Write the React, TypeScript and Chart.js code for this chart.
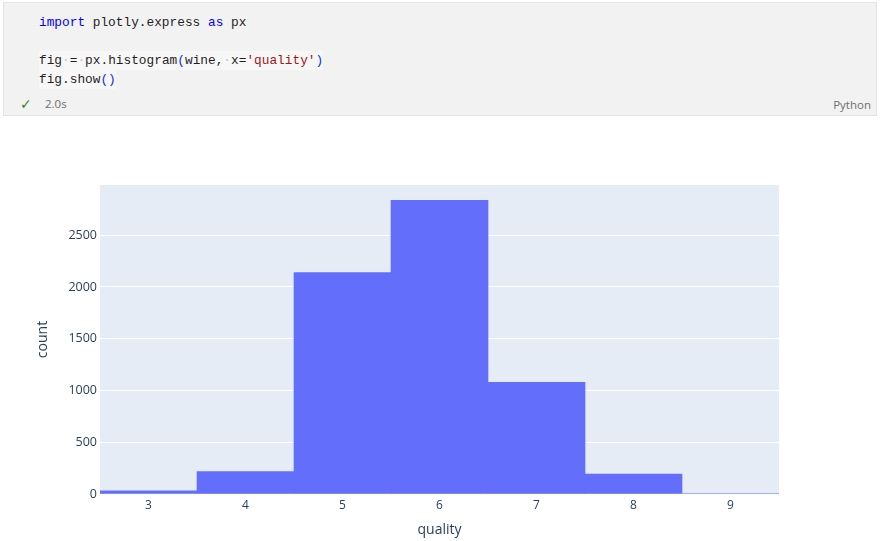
import React, { useEffect, useRef } from "react";
import { Chart, registerables } from "chart.js";

Chart.register(...registerables);

const qualities: string[] = ["3", "4", "5", "6", "7", "8", "9"];
const counts: number[] = [30, 216, 2138, 2836, 1079, 193, 5];
const yTickValues: number[] = [0, 500, 1000, 1500, 2000, 2500];
const yMax = 2985;

const plotBg = {
  id: "plotBg",
  beforeDraw(chart: any) {
    const { ctx, chartArea } = chart;
    if (!chartArea) return;
    ctx.save();
    ctx.fillStyle = "#e5ecf6";
    ctx.fillRect(chartArea.left, chartArea.top, chartArea.right - chartArea.left, chartArea.bottom - chartArea.top);
    ctx.restore();
  },
};

const mono: React.CSSProperties = {
  fontFamily: "'Liberation Mono', 'DejaVu Sans Mono', monospace",
  fontSize: "12.8px",
  whiteSpace: "pre",
  color: "#1f1f1f",
  position: "absolute",
  left: 35,
  height: 19,
  lineHeight: "19px",
};

const kw = { color: "#0000ff" };
const br = { color: "#0431fa" };
const str = { color: "#a31515" };
const ws = { color: "#c4c4c4" };

export default function App() {
  const ref = useRef<HTMLCanvasElement | null>(null);

  useEffect(() => {
    if (!ref.current) return;
    const chart = new Chart(ref.current, {
      type: "bar",
      data: {
        labels: qualities,
        datasets: [
          {
            label: "count",
            data: counts,
            backgroundColor: "#636efa",
            borderWidth: 0,
            barPercentage: 1,
            categoryPercentage: 1,
          },
        ],
      },
      options: {
        responsive: false,
        animation: false,
        layout: { padding: { top: 65, right: 101, left: 0, bottom: 0 } },
        plugins: { legend: { display: false }, tooltip: { enabled: false } },
        scales: {
          x: {
            type: "category",
            grid: { display: false, drawTicks: false },
            border: { display: false },
            ticks: { color: "#2a3f5f", font: { family: "'Open Sans'", size: 12 }, padding: 4 },
            title: {
              display: true,
              text: "quality",
              color: "#2a3f5f",
              font: { family: "'Open Sans'", size: 14 },
              padding: { top: 0, bottom: 3 },
            },
            afterFit(scale: any) {
              scale.height = 47;
            },
          },
          y: {
            min: 0,
            max: yMax,
            grid: { color: "#ffffff", lineWidth: 1, drawTicks: false },
            border: { display: false },
            afterBuildTicks(scale: any) {
              scale.ticks = yTickValues.map((v) => ({ value: v }));
            },
            ticks: {
              color: "#2a3f5f",
              font: { family: "'Open Sans'", size: 12.5 },
              padding: 3,
              callback: (v: any) => String(v),
            },
            title: {
              display: true,
              text: "count",
              color: "#2a3f5f",
              font: { family: "'Open Sans'", size: 14 },
              padding: { top: 35, bottom: 0 },
            },
            afterFit(scale: any) {
              scale.width = 100;
            },
          },
        },
      },
      plugins: [plotBg],
    });
    return () => chart.destroy();
  }, []);

  return (
    <div style={{ position: "absolute", left: 0, top: 0, width: 880, height: 541, background: "#ffffff", overflow: "hidden" }}>
      <div
        style={{
          position: "absolute",
          left: 3,
          top: 2,
          width: 872,
          height: 112,
          background: "#f2f2f2",
          border: "1px solid #e4e4e4",
        }}
      >
        <div style={{ ...mono, top: 10 }}>
          <span style={kw}>import</span> plotly.express <span style={kw}>as</span> px
        </div>
        <div style={{ ...mono, top: 48, background: "#f7f7f7" }}>
          fig<span style={ws}>·</span>=<span style={ws}>·</span>px.histogram<span style={br}>(</span>wine,<span style={ws}>·</span>x=<span style={str}>'quality'</span><span style={br}>)</span>
        </div>
        <div style={{ ...mono, top: 67, background: "#f7f7f7" }}>
          fig.show<span style={br}>()</span>
        </div>
        <div
          style={{
            position: "absolute",
            left: 16,
            top: 92,
            fontFamily: "'DejaVu Sans', sans-serif",
            fontSize: 14,
            color: "#388a34",
            lineHeight: "18px",
          }}
        >
          ✓
        </div>
        <div
          style={{
            position: "absolute",
            left: 41,
            top: 92,
            fontFamily: "'Open Sans', sans-serif",
            fontSize: 11.5,
            color: "#6f6f6f",
            lineHeight: "18px",
          }}
        >
          2.0s
        </div>
        <div
          style={{
            position: "absolute",
            right: 5,
            top: 93,
            fontFamily: "'Open Sans', sans-serif",
            fontSize: 11.5,
            color: "#6f6f6f",
            lineHeight: "18px",
          }}
        >
          Python
        </div>
      </div>
      <canvas
        ref={ref}
        width={880}
        height={421}
        style={{ position: "absolute", left: 0, top: 120, width: 880, height: 421 }}
      />
    </div>
  );
}
